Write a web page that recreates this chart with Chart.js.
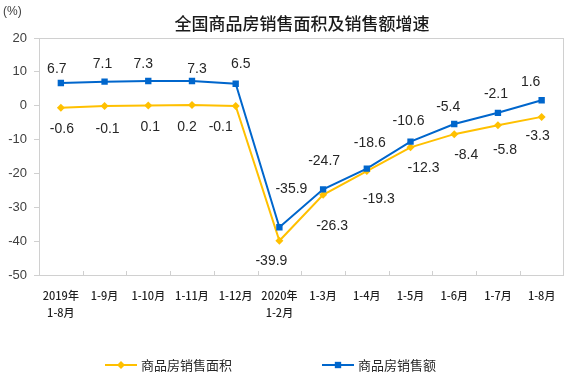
<!DOCTYPE html>
<html><head><meta charset="utf-8">
<script src="https://cdn.jsdelivr.net/npm/chart.js@4/dist/chart.umd.min.js"></script>
<style>html,body{margin:0;padding:0;background:#fff}canvas{display:block}</style>
</head><body>
<canvas id="c" width="568" height="378"></canvas>
<script>
const categories = [['2019年','1-8月'],'1-9月','1-10月','1-11月','1-12月',['2020年','1-2月'],'1-3月','1-4月','1-5月','1-6月','1-7月','1-8月'];
const salesArea = [-0.6,-0.1,0.1,0.2,-0.1,-39.9,-26.3,-19.3,-12.3,-8.4,-5.8,-3.3];
const salesAmount = [6.7,7.1,7.3,7.3,6.5,-35.9,-24.7,-18.6,-10.6,-5.4,-2.1,1.6];
const yTicks = [20,10,0,-10,-20,-30,-40,-50];
const chartTitle = '全国商品房销售面积及销售额增速';
const unitLabel = '(%)';
const seriesNames = ['商品房销售面积','商品房销售额'];

// label nudges relative to each point (px)
const areaLabelShift = [[1,21],[3,23],[2,22],[-5,22],[-15,21],[-8,20],[9,31],[12,28],[13,21],[12,21],[7,25],[-4,19]];
const amountLabelShift = [[-4,-14],[-2,-18],[-5,-17],[5,-12],[5,-20],[12,-38],[1,-28],[3,-26],[-2,-20],[-6,-17],[-2,-19],[-11,-18]];

const YELLOW = '#FFC000';
const BLUE = '#0066CC';
const FRAME = '#D0D0D0';
const TXT = '#262626';
const CJK = '"Noto Sans CJK SC", "Noto Sans", sans-serif';
const LAT = '"Liberation Sans", Arial, sans-serif';

const decor = {
  id: 'decor',
  afterDraw(chart) {
    const ctx = chart.ctx, a = chart.chartArea, xs = chart.scales.x;
    ctx.save();
    ctx.strokeStyle = FRAME; ctx.lineWidth = 1;
    ctx.strokeRect(Math.round(a.left) + 0.5, Math.round(a.top) + 0.5, Math.round(a.right - a.left) - 1, Math.round(a.bottom - a.top));
    ctx.beginPath();
    for (let i = 1; i < categories.length; i++) {
      const px = Math.round((xs.getPixelForValue(i - 1) + xs.getPixelForValue(i)) / 2) + 0.5;
      ctx.moveTo(px, a.bottom); ctx.lineTo(px, a.bottom - 4);
    }
    ctx.stroke();
    ctx.fillStyle = '#1a1a1a';
    ctx.font = '500 17px ' + CJK;
    ctx.textAlign = 'center'; ctx.textBaseline = 'middle';
    ctx.fillText(chartTitle, 302, 24);
    ctx.font = '12px ' + LAT;
    ctx.textAlign = 'left'; ctx.fillStyle = '#404040';
    ctx.fillText(unitLabel, 3, 12);
    ctx.restore();
  },
  afterDatasetsDraw(chart) {
    const ctx = chart.ctx;
    ctx.save();
    ctx.font = '14px ' + LAT;
    ctx.fillStyle = TXT;
    ctx.textAlign = 'center'; ctx.textBaseline = 'middle';
    chart.data.datasets.forEach((ds, di) => {
      const meta = chart.getDatasetMeta(di);
      const shifts = ds.labelShift;
      meta.data.forEach((pt, i) => {
        const v = ds.data[i];
        ctx.fillText(v.toFixed(1), pt.x + shifts[i][0], pt.y + shifts[i][1]);
      });
    });
    const items = [
      {x: 105, color: YELLOW, style: 'rectRot', r: 4, name: seriesNames[0]},
      {x: 322, color: BLUE, style: 'rect', r: 4.5, name: seriesNames[1]}
    ];
    const ly = 365;
    items.forEach(it => {
      ctx.strokeStyle = it.color; ctx.lineWidth = 2;
      ctx.beginPath(); ctx.moveTo(it.x, ly); ctx.lineTo(it.x + 32, ly); ctx.stroke();
      ctx.fillStyle = it.color;
      Chart.helpers.drawPoint(ctx, {pointStyle: it.style, radius: it.r, borderWidth: 0}, it.x + 16, ly);
      ctx.fillStyle = TXT;
      ctx.font = '13px ' + CJK;
      ctx.textAlign = 'left'; ctx.textBaseline = 'middle';
      ctx.fillText(it.name, it.x + 36, ly);
    });
    ctx.restore();
  }
};

new Chart(document.getElementById('c'), {
  type: 'line',
  data: {
    labels: categories,
    datasets: [
      {
        label: seriesNames[0], data: salesArea, labelShift: areaLabelShift,
        borderColor: YELLOW, backgroundColor: YELLOW, borderWidth: 2,
        pointStyle: 'rectRot', pointRadius: 4, pointBorderWidth: 0,
        tension: 0, order: 1
      },
      {
        label: seriesNames[1], data: salesAmount, labelShift: amountLabelShift,
        borderColor: BLUE, backgroundColor: BLUE, borderWidth: 2,
        pointStyle: 'rect', pointRadius: 4.5, pointBorderWidth: 0,
        tension: 0, order: 0
      }
    ]
  },
  options: {
    responsive: false, animation: false,
    layout: {padding: {left: 0, right: 3, top: 38, bottom: 0}},
    plugins: {legend: {display: false}, tooltip: {enabled: false}},
    scales: {
      x: {
        offset: true,
        grid: {display: false, drawTicks: false},
        border: {display: false},
        ticks: {padding: 12, color: '#1f1f1f', maxRotation: 0, autoSkip: false,
                font: {family: CJK, size: 11, weight: '500', lineHeight: 1.55}},
        afterFit(s) { s.height = 103; }
      },
      y: {
        min: yTicks[yTicks.length - 1], max: yTicks[0],
        ticks: {stepSize: yTicks[0] - yTicks[1], padding: 7, color: '#404040',
                font: {family: LAT, size: 13}},
        grid: {drawOnChartArea: false, drawTicks: true, tickLength: 5, color: FRAME},
        border: {display: false},
        afterFit(s) { s.width = 39; }
      }
    }
  },
  plugins: [decor]
});
</script>
</body></html>
